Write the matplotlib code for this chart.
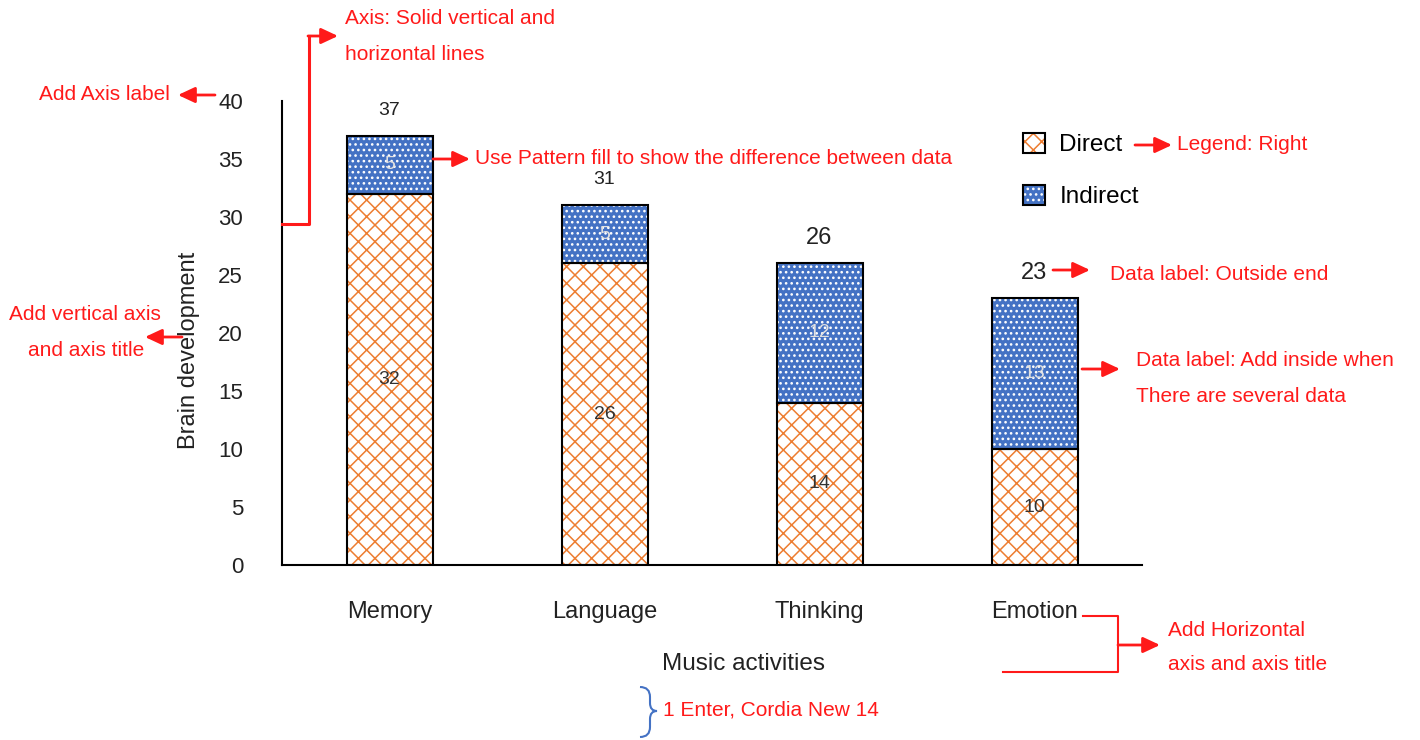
#!/usr/bin/env python3
"""Stacked bar chart of music activities vs brain development, with the
red "how to format" annotations drawn around it."""
import matplotlib
matplotlib.use("Agg")
import matplotlib.pyplot as plt
import numpy as np
from matplotlib.lines import Line2D
from matplotlib.patches import FancyArrowPatch, Patch, PathPatch
from matplotlib.path import Path

categories = ["Memory", "Language", "Thinking", "Emotion"]
direct = [32, 26, 14, 10]
indirect = [5, 5, 12, 13]
yticks = [0, 5, 10, 15, 20, 25, 30, 35, 40]

ORANGE = "#ED7D31"
BLUE = "#4472C4"
RED = "#FF1A1A"
W, H = 1420, 740

plt.rcParams["font.family"] = ["Liberation Sans", "DejaVu Sans"]
plt.rcParams["hatch.linewidth"] = 1.1

fig = plt.figure(figsize=(W / 100, H / 100), dpi=100)
ax = fig.add_axes([282 / W, 1 - 565 / H, 860 / W, 464 / H])


def P(x, y):
    # image pixel -> figure fraction
    return (x / W, 1 - y / H)


x = np.arange(len(categories))
width = 0.40
totals = np.array(direct) + np.array(indirect)

ax.bar(x, direct, width, color="white", edgecolor=ORANGE, hatch="xx", linewidth=0, zorder=2)
ax.bar(x, direct, width, fill=False, edgecolor="black", linewidth=1.5, zorder=3)
ax.bar(x, indirect, width, bottom=direct, color=BLUE, edgecolor="white", hatch="...",
       linewidth=0, zorder=2)
ax.bar(x, indirect, width, bottom=direct, fill=False, edgecolor="black", linewidth=1.5, zorder=3)

# inside labels
for i in range(len(categories)):
    ax.text(x[i], direct[i] / 2, str(direct[i]), ha="center", va="center",
            fontsize=14, color="#333333", zorder=4)
    ax.text(x[i], direct[i] + indirect[i] / 2, str(indirect[i]), ha="center", va="center",
            fontsize=14, color="#E0E0E0", zorder=4)

# outside-end totals (sizes differ in the reference)
total_sizes = [14, 14, 17, 17]
for i, t in enumerate(totals):
    ax.text(x[i], t + 2.2, str(t), ha="center", va="center", fontsize=total_sizes[i],
            color="#222222")

ax.set_xlim(-0.5, 3.5)
ax.set_ylim(0, 40)
ax.set_yticks(yticks)
ax.set_xticks(x)
ax.set_xticklabels(categories)
ax.tick_params(axis="y", length=0, pad=28, labelsize=16, labelcolor="#222222")
ax.tick_params(axis="x", length=0, pad=26, labelsize=17, labelcolor="#222222")
for s in ("top", "right"):
    ax.spines[s].set_visible(False)
for s in ("left", "bottom"):
    ax.spines[s].set_linewidth(1.5)

ax.set_ylabel("Brain development", fontsize=17, color="#222222")
ax.yaxis.set_label_coords(-0.095, 0.463)
ax.set_xlabel("Music activities", fontsize=17.5, color="#222222")
ax.xaxis.set_label_coords(0.537, -0.19)

handles = [
    (Patch(facecolor="white", edgecolor=ORANGE, hatch="xx", linewidth=0),
     Patch(fill=False, edgecolor="black", linewidth=1.5)),
    (Patch(facecolor=BLUE, edgecolor="white", hatch="...", linewidth=0),
     Patch(fill=False, edgecolor="black", linewidth=1.5)),
]
fig.legend(handles, ["Direct", "Indirect"], loc="upper left",
           bbox_to_anchor=P(1023, 133), frameon=False, fontsize=17.5,
           handlelength=0.9, handleheight=0.9, handletextpad=0.6,
           labelspacing=1.17, borderpad=0, borderaxespad=0)


# ---- red annotations ----
def arrow(x0, y0, x1, y1):
    fig.add_artist(FancyArrowPatch(P(x0, y0), P(x1, y1), transform=fig.transFigure,
                                   arrowstyle="-|>,head_length=0.6,head_width=0.28",
                                   mutation_scale=17, color=RED, linewidth=2.0,
                                   shrinkA=0, shrinkB=0))


def seg(xs, ys, lw=2.2):
    pts = [P(a, b) for a, b in zip(xs, ys)]
    fig.add_artist(Line2D([p[0] for p in pts], [p[1] for p in pts],
                          transform=fig.transFigure, color=RED, linewidth=lw))


def note(x0, y0, s):
    fig.text(*P(x0, y0), s, color=RED, fontsize=15, va="center", ha="left")


arrow(215, 95, 178, 95)
note(39, 95, "Add Axis label")

seg([282, 309, 309], [224, 224, 36])
arrow(308, 36, 338, 36)
note(345, 19, "Axis: Solid vertical and")
note(345, 54, "horizontal lines")

arrow(433, 159, 470, 159)
note(475, 159, "Use Pattern fill to show the difference between data")

arrow(1135, 145, 1172, 145)
note(1177, 145, "Legend: Right")

arrow(1053, 270, 1090, 270)
note(1110, 274, "Data label: Outside end")

arrow(182, 337, 145, 337)
note(9, 315, "Add vertical axis")
note(28, 350, "and axis title")

arrow(1082, 369, 1120, 369)
note(1136, 361, "Data label: Add inside when")
note(1136, 397, "There are several data")

seg([1083, 1118, 1118, 1003], [616, 616, 672, 672], lw=1.5)
arrow(1118, 645, 1160, 645)
note(1168, 630, "Add Horizontal")
note(1168, 665, "axis and axis title")

# blue curly brace
brace = [(640, 687), (650, 687), (650, 697), (650, 703), (650, 711), (657, 711),
         (650, 711), (650, 719), (650, 727), (650, 737), (640, 737)]
codes = [Path.MOVETO, Path.CURVE3, Path.CURVE3, Path.LINETO, Path.CURVE3, Path.CURVE3,
         Path.CURVE3, Path.CURVE3, Path.LINETO, Path.CURVE3, Path.CURVE3]
fig.add_artist(PathPatch(Path([P(a, b) for a, b in brace], codes), transform=fig.transFigure,
                         fill=False, edgecolor=BLUE, linewidth=1.5))
note(663, 710, "1 Enter, Cordia New 14")

fig.savefig("out.png", dpi=100)
